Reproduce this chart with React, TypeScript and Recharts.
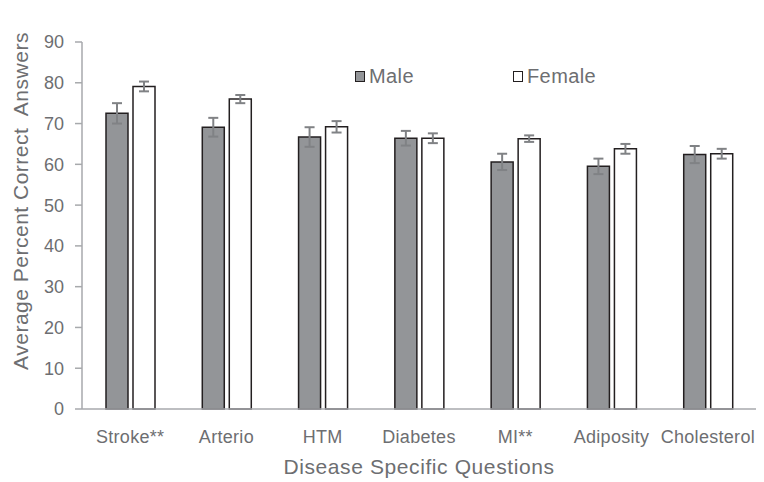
import React from "react";
import {
  BarChart,
  Bar,
  XAxis,
  YAxis,
  Legend,
  ErrorBar,
} from "recharts";

const categories = ["Stroke**", "Arterio", "HTM", "Diabetes", "MI**", "Adiposity", "Cholesterol"];
const maleValues = [72.5, 69.1, 66.7, 66.4, 60.6, 59.5, 62.4];
const femaleValues = [79.1, 76.0, 69.2, 66.4, 66.3, 63.8, 62.6];
const maleErrors = [2.5, 2.3, 2.4, 1.8, 2.0, 1.9, 2.1];
const femaleErrors = [1.2, 1.0, 1.4, 1.2, 0.8, 1.2, 1.2];
const yTicks = [0, 10, 20, 30, 40, 50, 60, 70, 80, 90];

const data = categories.map((name, i) => ({
  name,
  male: maleValues[i],
  female: femaleValues[i],
  maleErr: maleErrors[i],
  femaleErr: femaleErrors[i],
}));

const FONT = '"Liberation Sans", Arial, sans-serif';
const TEXT = "#6d6e71";
const AXIS = "#a7a9ac";
const OUTLINE = "#231f20";
const MALE_FILL = "#939598";
const ERR = "#808285";

const legendItems = [
  { label: "Male", fill: MALE_FILL },
  { label: "Female", fill: "#ffffff" },
];

function LegendBox() {
  return (
    <div
      style={{
        display: "flex",
        fontFamily: FONT,
        fontSize: 20,
        letterSpacing: 0.4,
        color: TEXT,
        lineHeight: "20px",
      }}
    >
      {legendItems.map((it) => (
        <div key={it.label} style={{ width: 158, display: "flex", alignItems: "center" }}>
          <span
            style={{
              display: "inline-block",
              width: 8,
              height: 9,
              border: `1.5px solid ${OUTLINE}`,
              background: it.fill,
              marginRight: 4,
            }}
          />
          <span>{it.label}</span>
        </div>
      ))}
    </div>
  );
}

function YTitle() {
  return (
    <text
      x={0}
      y={0}
      transform="translate(28, 201) rotate(-90)"
      textAnchor="middle"
      fill={TEXT}
      fontSize={21}
      fontFamily={FONT}
      letterSpacing={0.5}
      style={{ whiteSpace: "pre" }}
    >
      Average Percent Correct  Answers
    </text>
  );
}

export default function App() {
  return (
    <div style={{ position: "absolute", left: 0, top: 0, background: "#fff" }}>
      <BarChart
        width={764}
        height={482}
        data={data}
        margin={{ top: 22, right: 8, left: 0, bottom: 0 }}
        barGap={5}
        barSize={22}
      >
        <XAxis
          dataKey="name"
          height={73}
          axisLine={{ stroke: AXIS, strokeWidth: 1.5 }}
          tickLine={false}
          tickSize={6}
          tickMargin={15}
          interval={0}
          tick={{ fill: TEXT, fontSize: 18, fontFamily: FONT, letterSpacing: 0.3 }}
          label={{
            value: "Disease Specific Questions",
            position: "insideBottom",
            offset: 8,
            fill: TEXT,
            fontSize: 21,
            fontFamily: FONT,
            letterSpacing: 0.6,
          }}
        />
        <YAxis
          width={82}
          domain={[0, 90]}
          ticks={yTicks}
          interval={0}
          axisLine={{ stroke: AXIS, strokeWidth: 1.5 }}
          tickLine={{ stroke: AXIS, strokeWidth: 1.5 }}
          tickSize={7}
          tickMargin={11}
          tick={{ fill: TEXT, fontSize: 18, fontFamily: FONT }}
          label={<YTitle />}
        />
        <Legend
          verticalAlign="top"
          content={() => <LegendBox />}
          wrapperStyle={{ top: 66, left: 355, width: "auto" }}
        />
        <Bar dataKey="male" name="Male" fill={MALE_FILL} stroke={OUTLINE} strokeWidth={1.5} isAnimationActive={false}>
          <ErrorBar dataKey="maleErr" width={5} stroke={ERR} strokeWidth={2} />
        </Bar>
        <Bar dataKey="female" name="Female" fill="#ffffff" stroke={OUTLINE} strokeWidth={1.5} isAnimationActive={false}>
          <ErrorBar dataKey="femaleErr" width={5} stroke={ERR} strokeWidth={2} />
        </Bar>
      </BarChart>
    </div>
  );
}
